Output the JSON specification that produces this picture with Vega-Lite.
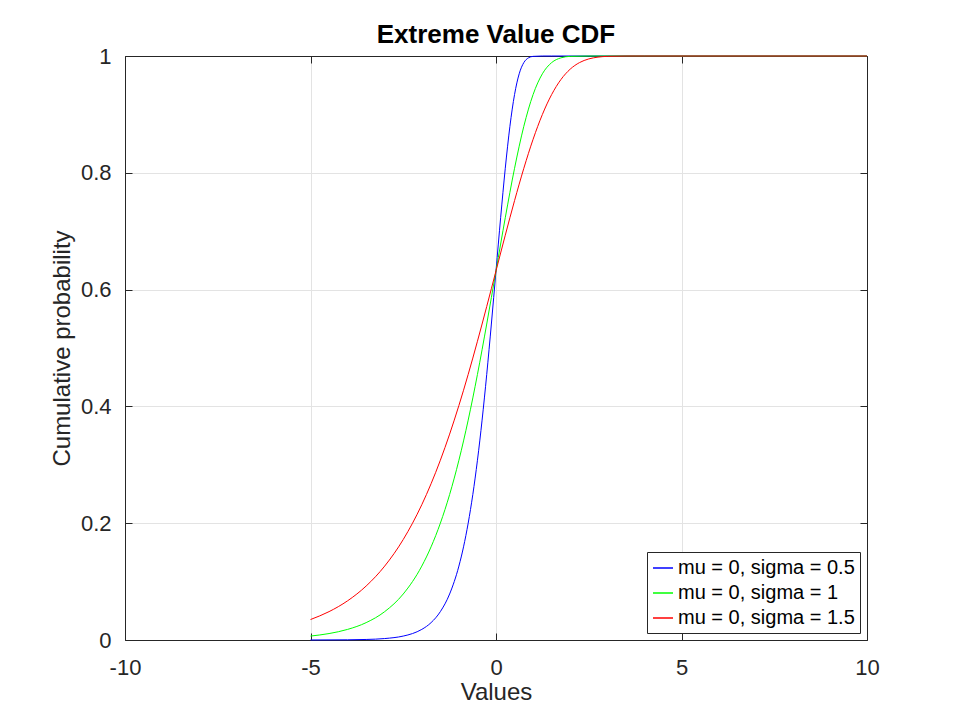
{
  "$schema": "https://vega.github.io/schema/vega-lite/v6.json",
  "width": 742,
  "height": 584,
  "autosize": {"type": "none"},
  "padding": {"left": 125, "top": 56, "right": 93, "bottom": 80},
  "background": "white",
  "config": {
    "font": "Liberation Sans",
    "view": {"stroke": null},
    "axis": {
      "domainColor": "#262626",
      "tickColor": "#262626",
      "labelColor": "#262626",
      "titleColor": "#262626",
      "gridColor": "#e3e3e3",
      "labelFontSize": 22,
      "titleFontSize": 24,
      "titleFontWeight": "normal",
      "labelFont": "Liberation Sans",
      "titleFont": "Liberation Sans",
      "labelFlush": false,
      "zindex": 0
    },
    "legend": {
      "strokeColor": "#262626",
      "fillColor": "white",
      "padding": 5,
      "cornerRadius": 0,
      "labelFontSize": 20,
      "labelFont": "Liberation Sans",
      "labelColor": "black",
      "labelLimit": 400,
      "symbolType": "stroke",
      "symbolSize": 400,
      "symbolStrokeWidth": 1.5,
      "rowPadding": 4,
      "labelOffset": 4
    }
  },
  "title": {
    "text": "Extreme Value CDF",
    "fontSize": 26,
    "fontWeight": "bold",
    "font": "Liberation Sans",
    "color": "black",
    "offset": -3
  },
  "data": {
    "values": [
      {"x": -5, "p": 0.0000454, "s": "mu = 0, sigma = 0.5"},
      {"x": -4, "p": 0.000335, "s": "mu = 0, sigma = 0.5"},
      {"x": -3.5, "p": 0.000912, "s": "mu = 0, sigma = 0.5"},
      {"x": -3, "p": 0.002476, "s": "mu = 0, sigma = 0.5"},
      {"x": -2.5, "p": 0.006715, "s": "mu = 0, sigma = 0.5"},
      {"x": -2.25, "p": 0.011048, "s": "mu = 0, sigma = 0.5"},
      {"x": -2, "p": 0.018149, "s": "mu = 0, sigma = 0.5"},
      {"x": -1.75, "p": 0.029746, "s": "mu = 0, sigma = 0.5"},
      {"x": -1.5, "p": 0.048568, "s": "mu = 0, sigma = 0.5"},
      {"x": -1.25, "p": 0.078806, "s": "mu = 0, sigma = 0.5"},
      {"x": -1, "p": 0.126577, "s": "mu = 0, sigma = 0.5"},
      {"x": -0.875, "p": 0.15951, "s": "mu = 0, sigma = 0.5"},
      {"x": -0.75, "p": 0.19998, "s": "mu = 0, sigma = 0.5"},
      {"x": -0.625, "p": 0.249107, "s": "mu = 0, sigma = 0.5"},
      {"x": -0.5, "p": 0.307799, "s": "mu = 0, sigma = 0.5"},
      {"x": -0.375, "p": 0.376475, "s": "mu = 0, sigma = 0.5"},
      {"x": -0.25, "p": 0.454761, "s": "mu = 0, sigma = 0.5"},
      {"x": -0.125, "p": 0.541056, "s": "mu = 0, sigma = 0.5"},
      {"x": 0, "p": 0.632121, "s": "mu = 0, sigma = 0.5"},
      {"x": 0.125, "p": 0.72308, "s": "mu = 0, sigma = 0.5"},
      {"x": 0.25, "p": 0.807704, "s": "mu = 0, sigma = 0.5"},
      {"x": 0.375, "p": 0.879608, "s": "mu = 0, sigma = 0.5"},
      {"x": 0.5, "p": 0.934012, "s": "mu = 0, sigma = 0.5"},
      {"x": 0.625, "p": 0.969508, "s": "mu = 0, sigma = 0.5"},
      {"x": 0.75, "p": 0.988686, "s": "mu = 0, sigma = 0.5"},
      {"x": 0.875, "p": 0.996832, "s": "mu = 0, sigma = 0.5"},
      {"x": 1, "p": 0.999383, "s": "mu = 0, sigma = 0.5"},
      {"x": 1.25, "p": 0.999995, "s": "mu = 0, sigma = 0.5"},
      {"x": 1.5, "p": 1, "s": "mu = 0, sigma = 0.5"},
      {"x": 10, "p": 1, "s": "mu = 0, sigma = 0.5"},

      {"x": -5, "p": 0.006715, "s": "mu = 0, sigma = 1"},
      {"x": -4.5, "p": 0.011048, "s": "mu = 0, sigma = 1"},
      {"x": -4, "p": 0.018149, "s": "mu = 0, sigma = 1"},
      {"x": -3.5, "p": 0.029746, "s": "mu = 0, sigma = 1"},
      {"x": -3, "p": 0.048568, "s": "mu = 0, sigma = 1"},
      {"x": -2.5, "p": 0.078806, "s": "mu = 0, sigma = 1"},
      {"x": -2, "p": 0.126577, "s": "mu = 0, sigma = 1"},
      {"x": -1.75, "p": 0.15951, "s": "mu = 0, sigma = 1"},
      {"x": -1.5, "p": 0.19998, "s": "mu = 0, sigma = 1"},
      {"x": -1.25, "p": 0.249107, "s": "mu = 0, sigma = 1"},
      {"x": -1, "p": 0.307799, "s": "mu = 0, sigma = 1"},
      {"x": -0.75, "p": 0.376475, "s": "mu = 0, sigma = 1"},
      {"x": -0.5, "p": 0.454761, "s": "mu = 0, sigma = 1"},
      {"x": -0.25, "p": 0.541056, "s": "mu = 0, sigma = 1"},
      {"x": 0, "p": 0.632121, "s": "mu = 0, sigma = 1"},
      {"x": 0.25, "p": 0.72308, "s": "mu = 0, sigma = 1"},
      {"x": 0.5, "p": 0.807704, "s": "mu = 0, sigma = 1"},
      {"x": 0.75, "p": 0.879608, "s": "mu = 0, sigma = 1"},
      {"x": 1, "p": 0.934012, "s": "mu = 0, sigma = 1"},
      {"x": 1.25, "p": 0.969508, "s": "mu = 0, sigma = 1"},
      {"x": 1.5, "p": 0.988686, "s": "mu = 0, sigma = 1"},
      {"x": 1.75, "p": 0.996832, "s": "mu = 0, sigma = 1"},
      {"x": 2, "p": 0.999383, "s": "mu = 0, sigma = 1"},
      {"x": 2.5, "p": 0.999995, "s": "mu = 0, sigma = 1"},
      {"x": 3, "p": 1, "s": "mu = 0, sigma = 1"},
      {"x": 10, "p": 1, "s": "mu = 0, sigma = 1"},

      {"x": -5, "p": 0.035045, "s": "mu = 0, sigma = 1.5"},
      {"x": -4.5, "p": 0.048568, "s": "mu = 0, sigma = 1.5"},
      {"x": -4, "p": 0.067124, "s": "mu = 0, sigma = 1.5"},
      {"x": -3.5, "p": 0.092421, "s": "mu = 0, sigma = 1.5"},
      {"x": -3, "p": 0.126577, "s": "mu = 0, sigma = 1.5"},
      {"x": -2.5, "p": 0.17212, "s": "mu = 0, sigma = 1.5"},
      {"x": -2, "p": 0.23169, "s": "mu = 0, sigma = 1.5"},
      {"x": -1.75, "p": 0.26756, "s": "mu = 0, sigma = 1.5"},
      {"x": -1.5, "p": 0.307799, "s": "mu = 0, sigma = 1.5"},
      {"x": -1.25, "p": 0.35255, "s": "mu = 0, sigma = 1.5"},
      {"x": -1, "p": 0.40155, "s": "mu = 0, sigma = 1.5"},
      {"x": -0.75, "p": 0.454761, "s": "mu = 0, sigma = 1.5"},
      {"x": -0.5, "p": 0.51158, "s": "mu = 0, sigma = 1.5"},
      {"x": -0.25, "p": 0.57109, "s": "mu = 0, sigma = 1.5"},
      {"x": 0, "p": 0.632121, "s": "mu = 0, sigma = 1.5"},
      {"x": 0.25, "p": 0.69314, "s": "mu = 0, sigma = 1.5"},
      {"x": 0.5, "p": 0.75233, "s": "mu = 0, sigma = 1.5"},
      {"x": 0.75, "p": 0.807704, "s": "mu = 0, sigma = 1.5"},
      {"x": 1, "p": 0.85741, "s": "mu = 0, sigma = 1.5"},
      {"x": 1.25, "p": 0.89985, "s": "mu = 0, sigma = 1.5"},
      {"x": 1.5, "p": 0.934012, "s": "mu = 0, sigma = 1.5"},
      {"x": 1.75, "p": 0.95969, "s": "mu = 0, sigma = 1.5"},
      {"x": 2, "p": 0.97749, "s": "mu = 0, sigma = 1.5"},
      {"x": 2.25, "p": 0.988686, "s": "mu = 0, sigma = 1.5"},
      {"x": 2.5, "p": 0.994977, "s": "mu = 0, sigma = 1.5"},
      {"x": 2.75, "p": 0.998079, "s": "mu = 0, sigma = 1.5"},
      {"x": 3, "p": 0.999383, "s": "mu = 0, sigma = 1.5"},
      {"x": 3.5, "p": 0.999967, "s": "mu = 0, sigma = 1.5"},
      {"x": 3.75, "p": 0.999995, "s": "mu = 0, sigma = 1.5"},
      {"x": 4, "p": 1, "s": "mu = 0, sigma = 1.5"},
      {"x": 10, "p": 1, "s": "mu = 0, sigma = 1.5"}
    ]
  },
  "layer": [
    {
      "mark": {"type": "line", "strokeWidth": 1, "interpolate": "monotone", "clip": false},
      "encoding": {
        "x": {
          "field": "x", "type": "quantitative",
          "scale": {"domain": [-10, 10], "nice": false, "zero": false},
          "axis": {"title": "Values", "values": [-10, -5, 0, 5, 10], "grid": true, "tickSize": -7, "labelPadding": 24, "titlePadding": 2, "labelExpr": "'' + datum.value"}
        },
        "y": {
          "field": "p", "type": "quantitative",
          "scale": {"domain": [0, 1], "nice": false},
          "axis": {"title": "Cumulative probability", "values": [0, 0.2, 0.4, 0.6, 0.8, 1], "grid": true, "tickSize": -7, "labelPadding": 21, "titlePadding": 6, "labelExpr": "'' + datum.value"}
        },
        "color": {
          "field": "s", "type": "nominal",
          "scale": {"domain": ["mu = 0, sigma = 0.5", "mu = 0, sigma = 1", "mu = 0, sigma = 1.5"], "range": ["#0000ff", "#00ff00", "#ff0000"]},
          "legend": {"title": null, "orient": "bottom-right", "offset": 7}
        }
      }
    },
    {
      "mark": {"type": "line", "strokeWidth": 1, "opacity": 0},
      "encoding": {
        "x": {"field": "x", "type": "quantitative", "axis": {"orient": "top", "labels": false, "title": null, "values": [-10, -5, 0, 5, 10], "grid": false, "tickSize": -7, "zindex": 0}},
        "y": {"field": "p", "type": "quantitative", "axis": {"orient": "right", "labels": false, "title": null, "values": [0, 0.2, 0.4, 0.6, 0.8, 1], "grid": false, "tickSize": -7, "zindex": 0}},
        "detail": {"field": "s"}
      }
    }
  ],
  "resolve": {"axis": {"x": "independent", "y": "independent"}}
}
